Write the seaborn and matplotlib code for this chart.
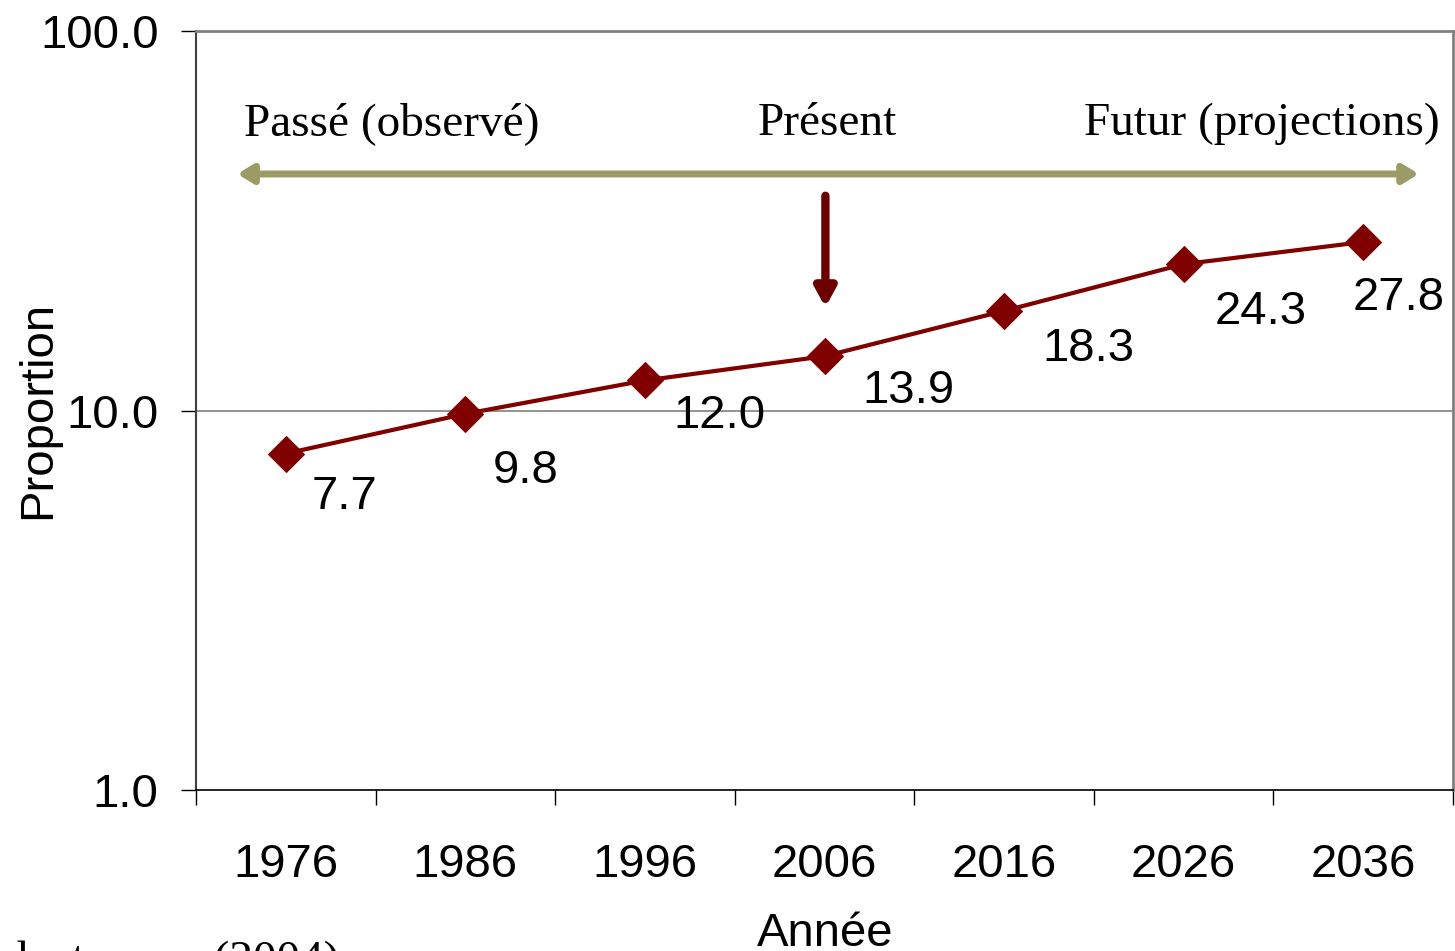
import numpy as np
import matplotlib
matplotlib.use("Agg")
import matplotlib.pyplot as plt
import seaborn as sns
import pandas as pd

# data
years = ["1976", "1986", "1996", "2006", "2016", "2026", "2036"]
proportion = [7.7, 9.8, 12.0, 13.9, 18.3, 24.3, 27.8]

# label offsets (pixels right, pixels down to the baseline)
label_dx = [59, 60, 75, 84, 84, 77, 35]
label_dy = [55, 69, 48, 47, 50, 60, 68]

red = "#800000"
olive = "#9c9b65"

sns.set_style("white")
plt.rcParams["font.family"] = ["Liberation Sans", "DejaVu Sans"]
plt.rcParams["text.color"] = "black"
plt.rcParams["xtick.color"] = "black"
plt.rcParams["ytick.color"] = "black"
plt.rcParams["axes.labelcolor"] = "black"

df = pd.DataFrame({"pos": np.arange(len(years)), "val": proportion})

fig = plt.figure(figsize=(14.55, 9.51), dpi=100)
ax = fig.add_axes([196 / 1455, 1 - 790 / 951, 1257 / 1455, 759 / 951])

sns.lineplot(data=df, x="pos", y="val", ax=ax, color=red, lw=3,
             marker="D", markersize=18, markeredgecolor=red, zorder=5)

ax.set_yscale("log")
ax.set_ylim(1, 100)
ax.set_xlim(-0.5, len(years) - 0.5)
ax.set_yticks([1, 10, 100])
ax.set_yticklabels(["1.0", "10.0", "100.0"])
ax.yaxis.set_minor_locator(matplotlib.ticker.NullLocator())
ax.set_xticks(np.arange(len(years) + 1) - 0.5)
ax.set_xticklabels([])
ax.set_xticks(np.arange(len(years)), minor=True)
ax.set_xticklabels(years, minor=True)
ax.tick_params(axis="x", which="major", direction="out", length=11, width=1, color="black", bottom=True)
ax.tick_params(axis="x", which="minor", length=0, pad=38, labelsize=34, labelcolor="black")
ax.tick_params(axis="y", which="major", direction="out", length=11, width=1, color="black",
               left=True, pad=16, labelsize=34, labelcolor="black")
ax.set_xlabel("")
ax.set_ylabel("")

ax.axhline(10, color="#808080", lw=1.2, zorder=1)
for side in ["top", "right"]:
    ax.spines[side].set_color("#808080")
    ax.spines[side].set_linewidth(2)
ax.spines["left"].set_color("#404040")
ax.spines["left"].set_linewidth(1.5)
ax.spines["bottom"].set_color("black")
ax.spines["bottom"].set_linewidth(1.2)

for i, v in enumerate(proportion):
    ax.annotate(f"{v:.1f}", (i, v), xytext=(label_dx[i] * 0.72, -label_dy[i] * 0.72),
                textcoords="offset points", ha="center", va="baseline", fontsize=34,
                color="black")

# timeline arrow
ax.annotate("", xy=(-0.27, 42), xytext=(6.31, 42),
            arrowprops=dict(arrowstyle="<|-|>,head_length=0.9,head_width=0.55",
                            color=olive, lw=5, shrinkA=0, shrinkB=0))
# present arrow
ax.annotate("", xy=(3.005, 18.7), xytext=(3.005, 36.8),
            arrowprops=dict(arrowstyle="-|>,head_length=1.1,head_width=0.6",
                            color="#6b0000", lw=6, shrinkA=0, shrinkB=0))

serif = ["Liberation Serif", "DejaVu Serif"]
for txt, xf in [("Passé (observé)", 0.156), ("Présent", 0.502), ("Futur (projections)", 0.848)]:
    ax.text(xf, 0.878, txt, transform=ax.transAxes, ha="center", va="center",
            fontsize=34, family=serif, color="black")

fig.text(825 / 1455, 1 - 946 / 951, "Année", ha="center", va="baseline", fontsize=34)
fig.text(38 / 1455, 0.5 + (951 / 2 - 410) / 951, "Proportion", rotation=90,
         ha="center", va="center", fontsize=34)
fig.text(-40 / 1455, 1 - 973 / 951, "au lecteur en (2004)", ha="left", va="baseline",
         fontsize=34, family=serif)

fig.savefig("out.png", dpi=100)
